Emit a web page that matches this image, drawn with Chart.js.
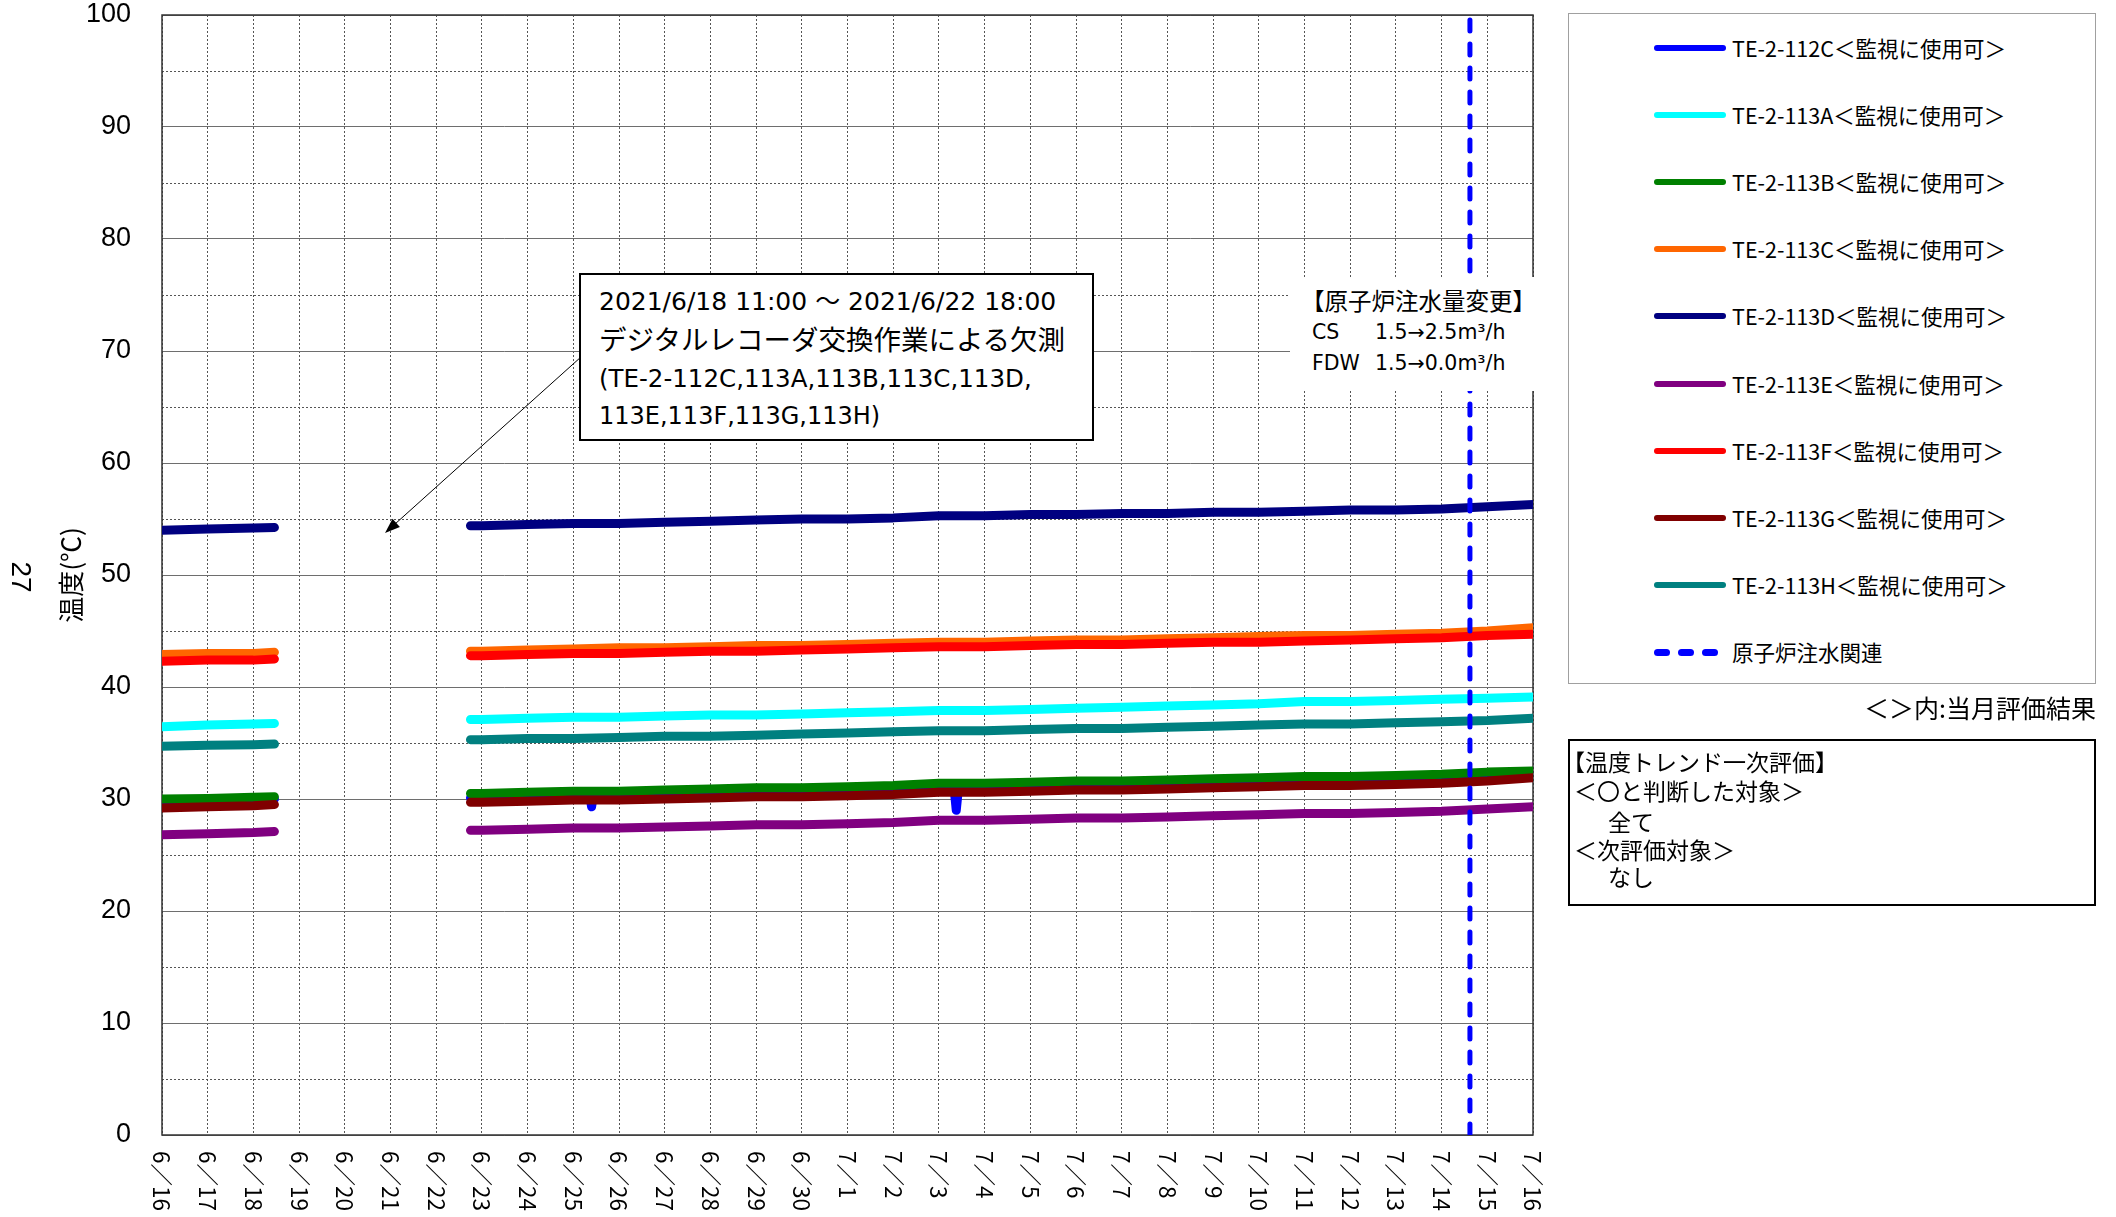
<!DOCTYPE html>
<html lang="ja">
<head>
<meta charset="utf-8">
<title>温度トレンド</title>
<script src="https://cdn.jsdelivr.net/npm/chart.js@4.4.1/dist/chart.umd.min.js"></script>
<style>
  html, body { margin: 0; padding: 0; background: #fff; }
  body { width: 2116px; height: 1217px; position: relative; overflow: hidden;
         font-family: "Noto Sans CJK JP", sans-serif; color: #000; }
  #graph { position: absolute; left: 0; top: 0; }
  .abs { position: absolute; white-space: nowrap; }
  .pageno { left: 4px; top: 560px; width: 32px; height: 34px; line-height: 34px; text-align: center;
            font: 28px "Liberation Sans", sans-serif; transform: rotate(90deg); }
  .note { left: 579px; top: 273px; width: 515px; height: 168px; box-sizing: border-box;
          border: 2px solid #000; background: #fff; }
  .note div { position: absolute; left: 18px; white-space: nowrap; line-height: 30px;
              font-family: "DejaVu Sans", "Noto Sans CJK JP", sans-serif; font-size: 24px; }
  .flow { left: 1290px; top: 277px; width: 250px; height: 114px; background: #fff; }
  .flow div { position: absolute; white-space: nowrap; line-height: 28px; }
  .legend { left: 1568px; top: 13px; width: 528px; height: 671px; box-sizing: border-box;
            border: 1px solid #a0a0a0; background: #fff; }
  .legend .row { position: absolute; left: 85px; height: 30px; line-height: 30px; font-size: 21.5px; white-space: nowrap; }
  .legend .swatch { position: absolute; left: 0; top: 12px; width: 72px; height: 6px; border-radius: 3px; }
  .legend .dash { position: absolute; top: 12px; width: 16px; height: 7px; border-radius: 4px; background: #0000ff; }
  .legend .txt { position: absolute; left: 78px; top: 0; }
  .monthnote { right: 20px; top: 691px; font-size: 25px; line-height: 32px; }
  .evalbox { left: 1568px; top: 739px; width: 528px; height: 167px; box-sizing: border-box;
             border: 2px solid #000; background: #fff; }
  .evalbox div { position: absolute; white-space: nowrap; font-size: 23px; line-height: 28px; }
</style>
</head>
<body>
<canvas id="graph" width="2116" height="1217"></canvas>

<div class="abs pageno">27</div>

<div class="abs note">
  <div style="top:12px;font-size:25px">2021/6/18 11:00 ～ 2021/6/22 18:00</div>
  <div style="top:50px;font-size:27.5px">デジタルレコーダ交換作業による欠測</div>
  <div style="top:89px;font-size:24.5px">(TE-2-112C,113A,113B,113C,113D,</div>
  <div style="top:126px">113E,113F,113G,113H)</div>
</div>

<div class="abs flow">
  <div style="left:11px;top:9px;font-size:23.5px">【原子炉注水量変更】</div>
  <div style="left:22px;top:43px;font:20.5px 'DejaVu Sans',sans-serif">CS</div>
  <div style="left:85px;top:43px;font:20.5px 'DejaVu Sans',sans-serif">1.5→2.5m³/h</div>
  <div style="left:22px;top:74px;font:20.5px 'DejaVu Sans',sans-serif">FDW</div>
  <div style="left:85px;top:74px;font:20.5px 'DejaVu Sans',sans-serif">1.5→0.0m³/h</div>
</div>

<div class="abs legend" id="legend"></div>
<div class="abs monthnote">＜＞内:当月評価結果</div>

<div class="abs evalbox">
  <div style="left:-8px;top:6px">【温度トレンド一次評価】</div>
  <div style="left:4px;top:35px">＜〇と判断した対象＞</div>
  <div style="left:38px;top:66px">全て</div>
  <div style="left:4px;top:94px">＜次評価対象＞</div>
  <div style="left:38px;top:121px">なし</div>
</div>

<script>
// x axis: days since 6/16 0:00, gap 6/18 11:00 - 6/22 18:00
const dayLabels = ['6／16','6／17','6／18','6／19','6／20','6／21','6／22','6／23','6／24','6／25','6／26','6／27','6／28','6／29','6／30',
  '7／1','7／2','7／3','7／4','7／5','7／6','7／7','7／8','7／9','7／10','7／11','7／12','7／13','7／14','7／15','7／16'];
const xDays = [0, 1, 2, 2.46, 4.5, 6.75, 7, 8, 9, 10, 11, 12, 13, 14, 15, 16, 17, 18, 19, 20, 21, 22, 23, 24, 25, 26, 27, 28, 29, 30];

const seriesNames = ['TE-2-112C','TE-2-113A','TE-2-113B','TE-2-113C','TE-2-113D','TE-2-113E','TE-2-113F','TE-2-113G','TE-2-113H'];
const seriesColors = ['#0000ff','#00ffff','#008000','#ff6600','#000080','#800080','#ff0000','#800000','#008080'];
const statusText = '＜監視に使用可＞';

const te112C = [29.8, 29.85, 29.95, 30.0, null, 30.1, 30.1, 30.2, 30.3, 30.3, 30.4, 30.5, 30.6, 30.6, 30.7, 30.8, 31.0, 31.0, 31.1, 31.2, 31.2, 31.3, 31.4, 31.5, 31.6, 31.6, 31.7, 31.8, 32.0, 32.2];
const te113A = [36.45, 36.6, 36.7, 36.75, null, 37.1, 37.1, 37.2, 37.3, 37.3, 37.4, 37.5, 37.5, 37.6, 37.7, 37.8, 37.9, 37.9, 38.0, 38.1, 38.2, 38.3, 38.4, 38.5, 38.7, 38.7, 38.8, 38.9, 39.0, 39.1];
const te113B = [30.0, 30.05, 30.15, 30.2, null, 30.5, 30.5, 30.6, 30.7, 30.7, 30.8, 30.9, 31.0, 31.0, 31.1, 31.2, 31.4, 31.4, 31.5, 31.6, 31.6, 31.7, 31.8, 31.9, 32.0, 32.0, 32.1, 32.2, 32.4, 32.5];
const te113C = [42.9, 43.0, 43.0, 43.1, null, 43.2, 43.2, 43.3, 43.4, 43.5, 43.5, 43.6, 43.7, 43.7, 43.8, 43.9, 44.0, 44.0, 44.1, 44.2, 44.2, 44.3, 44.4, 44.5, 44.6, 44.6, 44.7, 44.8, 45.0, 45.3];
const te113D = [54.0, 54.1, 54.2, 54.25, null, 54.4, 54.4, 54.5, 54.6, 54.6, 54.7, 54.8, 54.9, 55.0, 55.0, 55.1, 55.3, 55.3, 55.4, 55.4, 55.5, 55.5, 55.6, 55.6, 55.7, 55.8, 55.8, 55.9, 56.1, 56.3];
const te113E = [26.8, 26.9, 27.0, 27.1, null, 27.2, 27.2, 27.3, 27.4, 27.4, 27.5, 27.6, 27.7, 27.7, 27.8, 27.9, 28.1, 28.1, 28.2, 28.3, 28.3, 28.4, 28.5, 28.6, 28.7, 28.7, 28.8, 28.9, 29.1, 29.3];
const te113F = [42.3, 42.4, 42.4, 42.5, null, 42.8, 42.8, 42.9, 43.0, 43.0, 43.1, 43.2, 43.2, 43.3, 43.4, 43.5, 43.6, 43.6, 43.7, 43.8, 43.8, 43.9, 44.0, 44.0, 44.1, 44.2, 44.3, 44.4, 44.6, 44.7];
const te113G = [29.2, 29.3, 29.4, 29.5, null, 29.7, 29.7, 29.8, 29.9, 29.9, 30.0, 30.1, 30.2, 30.2, 30.3, 30.4, 30.6, 30.6, 30.7, 30.8, 30.8, 30.9, 31.0, 31.1, 31.2, 31.2, 31.3, 31.4, 31.6, 31.9];
const te113H = [34.7, 34.8, 34.85, 34.9, null, 35.3, 35.3, 35.4, 35.4, 35.5, 35.6, 35.6, 35.7, 35.8, 35.9, 36.0, 36.1, 36.1, 36.2, 36.3, 36.3, 36.4, 36.5, 36.6, 36.7, 36.7, 36.8, 36.9, 37.0, 37.2];

// short drops seen on 112C
const dip112cX = [9.36, 9.4, 9.44, 17.33, 17.38, 17.43];
const dip112cY = [30.3, 29.3, 30.3, 31.05, 29.0, 31.05];

// 原子炉注水量変更 (7/14 15:00)
const injectionDay = 28.62;
const injectionLabel = '原子炉注水関連';

// arrow from note box to the missing range: [day, ℃]
const arrowFrom = [9.15, 69.4];
const arrowTo = [4.88, 53.75];

const allValues = [te112C, te113A, te113B, te113C, te113D, te113E, te113F, te113G, te113H];

const datasets = allValues.map((vals, i) => {
  let pts = xDays.map((x, j) => ({x: x, y: vals[j]}));
  if (i === 0) {
    dip112cX.forEach((x, k) => pts.push({x: x, y: dip112cY[k]}));
    pts.sort((a, b) => a.x - b.x);
  }
  return {
    label: seriesNames[i] + statusText,
    data: pts,
    borderColor: seriesColors[i],
    backgroundColor: seriesColors[i],
    borderWidth: 9,
    borderCapStyle: 'round',
    borderJoinStyle: 'round',
    pointRadius: 0,
    tension: 0,
    order: seriesNames.length - i
  };
});
datasets.push({
  label: injectionLabel,
  data: [{x: injectionDay, y: 0}, {x: injectionDay, y: 100}],
  borderColor: '#0000ff',
  borderWidth: 5,
  borderDash: [11, 13],
  borderCapStyle: 'round',
  pointRadius: 0,
  order: -1
});

// frame of the plot area
const frame = {
  id: 'frame',
  beforeDatasetsDraw(chart) {
    const {ctx, chartArea: a} = chart;
    ctx.save();
    ctx.strokeStyle = '#333';
    ctx.lineWidth = 1.5;
    ctx.strokeRect(a.left, a.top, a.right - a.left, a.bottom - a.top);
    ctx.restore();
  }
};

// date labels read top to bottom + arrow
const extras = {
  id: 'extras',
  afterDraw(chart) {
    const ctx = chart.ctx;
    const xs = chart.scales.x, ys = chart.scales.y;
    ctx.save();
    ctx.fillStyle = '#000';
    ctx.font = '22.5px "Noto Sans CJK JP", sans-serif';
    ctx.textAlign = 'left';
    ctx.textBaseline = 'middle';
    dayLabels.forEach((lab, i) => {
      ctx.save();
      ctx.translate(xs.getPixelForValue(i), chart.chartArea.bottom + 16);
      ctx.rotate(Math.PI / 2);
      ctx.fillText(lab, 0, 0);
      ctx.restore();
    });

    const x1 = xs.getPixelForValue(arrowFrom[0]), y1 = ys.getPixelForValue(arrowFrom[1]);
    const x2 = xs.getPixelForValue(arrowTo[0]), y2 = ys.getPixelForValue(arrowTo[1]);
    const ang = Math.atan2(y2 - y1, x2 - x1);
    ctx.strokeStyle = '#000';
    ctx.lineWidth = 1;
    ctx.beginPath();
    ctx.moveTo(x1, y1);
    ctx.lineTo(x2 - 10 * Math.cos(ang), y2 - 10 * Math.sin(ang));
    ctx.stroke();
    ctx.beginPath();
    ctx.moveTo(x2, y2);
    ctx.lineTo(x2 - 16 * Math.cos(ang - 0.35), y2 - 16 * Math.sin(ang - 0.35));
    ctx.lineTo(x2 - 16 * Math.cos(ang + 0.35), y2 - 16 * Math.sin(ang + 0.35));
    ctx.closePath();
    ctx.fill();
    ctx.restore();
  }
};

new Chart(document.getElementById('graph').getContext('2d'), {
  type: 'line',
  data: { datasets: datasets },
  plugins: [frame, extras],
  options: {
    responsive: false,
    animation: false,
    devicePixelRatio: 1,
    spanGaps: false,
    layout: { padding: { left: 0, right: 583, top: 15, bottom: 0 } },
    plugins: { legend: { display: false }, tooltip: { enabled: false } },
    scales: {
      x: {
        type: 'linear',
        min: 0, max: 30,
        ticks: { stepSize: 1, display: false },
        grid: { color: '#555', lineWidth: 1, drawTicks: false },
        border: { display: false, dash: [2, 2] },
        afterFit(scale) { scale.height = 82; scale.paddingLeft = 0; scale.paddingRight = 0; }
      },
      y: {
        min: 0, max: 100,
        ticks: {
          stepSize: 5,
          padding: 31,
          color: '#000',
          font: { family: '"Liberation Sans", sans-serif', size: 27 },
          callback: (v) => (v % 10 === 0 ? v : '')
        },
        grid: {
          drawTicks: false,
          lineWidth: 1,
          color: (c) => (c.tick && c.tick.value % 10 === 0 ? '#6e6e6e' : '#555')
        },
        border: {
          display: false,
          dash: (c) => (c.tick && c.tick.value % 10 === 0 ? [] : [2, 2])
        },
        title: {
          display: true,
          text: '温度(℃)',
          color: '#000',
          font: { family: '"Noto Sans CJK JP", sans-serif', size: 26 },
          padding: { top: 56, bottom: 0 }
        },
        afterFit(scale) { scale.width = 162; scale.paddingTop = 0; scale.paddingBottom = 0; }
      }
    }
  }
});

// legend box
const legendEl = document.getElementById('legend');
const rowTop = (i) => 47 - 13 - 15 + i * 67.1;
seriesNames.forEach((name, i) => {
  const row = document.createElement('div');
  row.className = 'row';
  row.style.top = rowTop(i) + 'px';
  row.innerHTML = '<span class="swatch" style="background:' + seriesColors[i] + '"></span>' +
                  '<span class="txt">' + name + statusText + '</span>';
  legendEl.appendChild(row);
});
const dashRow = document.createElement('div');
dashRow.className = 'row';
dashRow.style.top = rowTop(seriesNames.length) + 'px';
dashRow.innerHTML = '<span class="dash" style="left:0"></span><span class="dash" style="left:24px"></span>' +
                    '<span class="dash" style="left:48px"></span><span class="txt">' + injectionLabel + '</span>';
legendEl.appendChild(dashRow);
</script>
</body>
</html>
